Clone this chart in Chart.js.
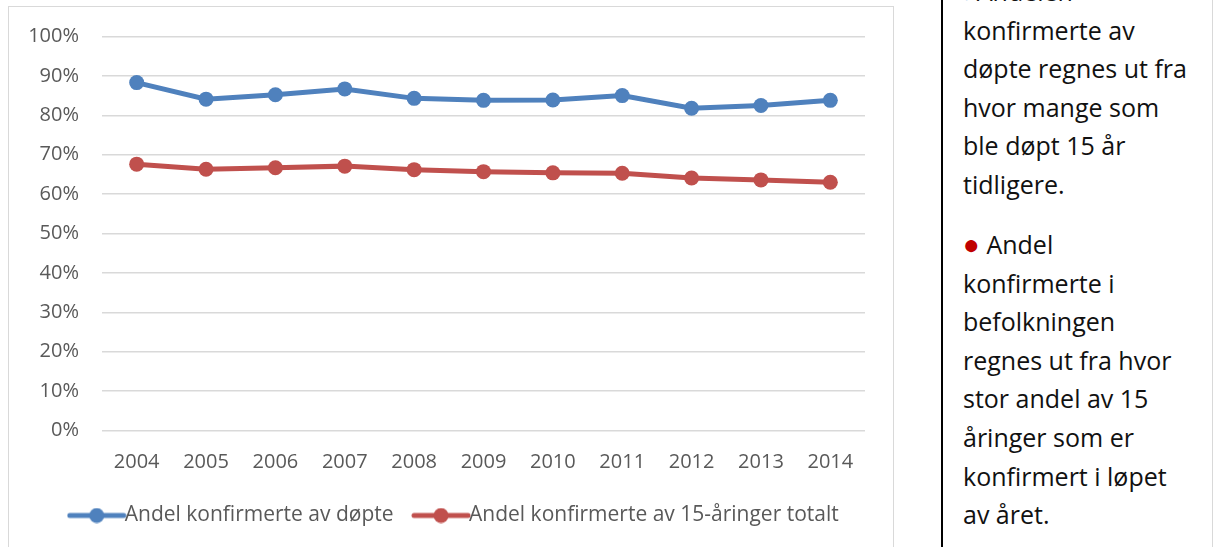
<!DOCTYPE html>
<html>
<head>
<meta charset="utf-8">
<script src="https://cdn.jsdelivr.net/npm/chart.js@4.4.1/dist/chart.umd.min.js"></script>
<style>
  body { margin: 0; background: #fff; width: 1214px; height: 547px; overflow: hidden; position: relative; }
  #box { position: absolute; left: 8px; top: 6px; width: 886px; height: 580px; border: 1.5px solid #d9d9d9; box-sizing: border-box; }
  #box canvas { display: block; }
  #note { position: absolute; left: 941px; top: 0; width: 272px; height: 547px; border-left: 2px solid #000; border-right: 1px solid #d9d9d9; box-sizing: border-box; }
  #note p { margin: 0; position: absolute; left: 20px; font-family: "Open Sans", sans-serif; font-size: 25px; line-height: 38.6px; color: #111; white-space: nowrap; }
  .dot { line-height: 0; }
</style>
</head>
<body>
<div id="box"><canvas id="chart" width="883" height="529"></canvas></div>
<div id="note">
  <p style="top:-28px"><span class="dot" style="color:#0070c0;font-size:12px;">●</span> Andelen<br>konfirmerte av<br>døpte regnes ut fra<br>hvor mange som<br>ble døpt 15 år<br>tidligere.</p>
  <p style="top:225px"><span class="dot" style="color:#c00000;font-size:28px;">●</span> Andel<br>konfirmerte i<br>befolkningen<br>regnes ut fra hvor<br>stor andel av 15<br>åringer som er<br>konfirmert i løpet<br>av året.</p>
</div>
<script>
  const years = ['2004','2005','2006','2007','2008','2009','2010','2011','2012','2013','2014'];
  const dopte = [0.883, 0.841, 0.852, 0.867, 0.843, 0.838, 0.839, 0.850, 0.818, 0.825, 0.838];
  const totalt = [0.676, 0.663, 0.667, 0.671, 0.662, 0.657, 0.654, 0.653, 0.641, 0.636, 0.630];
  const names = ['Andel konfirmerte av døpte', 'Andel konfirmerte av 15-åringer totalt'];
  const colors = ['#4f81bd', '#c0504d'];

  // legend marker: line with a dot in the middle
  function marker(color) {
    const c = document.createElement('canvas');
    c.width = 60; c.height = 16;
    const g = c.getContext('2d');
    g.strokeStyle = color; g.lineWidth = 5; g.lineCap = 'round';
    g.beginPath(); g.moveTo(3, 8); g.lineTo(57, 8); g.stroke();
    g.fillStyle = color;
    g.beginPath(); g.arc(30, 8, 7.5, 0, Math.PI * 2); g.fill();
    return c;
  }

  // nudge legend to the right so it sits like the original
  const shiftLegend = {
    id: 'shiftLegend',
    afterLayout(chart) {
      chart.legend.left += 22;
      chart.legend.right += 22;
    }
  };

  const ctx = document.getElementById('chart').getContext('2d');
  Chart.defaults.font.family = '"Open Sans", sans-serif';
  Chart.defaults.color = '#595959';

  new Chart(ctx, {
    type: 'line',
    data: {
      labels: years,
      datasets: [
        { label: names[0], data: dopte, borderColor: colors[0], backgroundColor: colors[0] },
        { label: names[1], data: totalt, borderColor: colors[1], backgroundColor: colors[1] }
      ]
    },
    options: {
      responsive: false,
      animation: false,
      devicePixelRatio: 1,
      elements: {
        line: { borderWidth: 5, tension: 0 },
        point: { pointStyle: 'circle', radius: 7.5, hoverRadius: 7.5, borderWidth: 0 }
      },
      layout: { padding: { top: 29.5, right: 27, left: 0, bottom: 0 } },
      plugins: {
        tooltip: { enabled: false },
        legend: {
          position: 'bottom',
          labels: {
            usePointStyle: true,
            pointStyleWidth: 35,
            padding: 30,
            font: { size: 21 },
            color: '#595959',
            generateLabels: (chart) => chart.data.datasets.map((d, i) => ({
              text: d.label, pointStyle: marker(colors[i]), fontColor: '#595959',
              strokeStyle: colors[i], fillStyle: colors[i], lineWidth: 0, datasetIndex: i
            }))
          }
        }
      },
      scales: {
        x: {
          offset: true,
          grid: { display: false },
          border: { display: false },
          afterFit: (s) => { s.height = 44.5; },
          ticks: { font: { size: 20 }, padding: 12, maxRotation: 0 }
        },
        y: {
          min: 0, max: 1,
          afterFit: (s) => { s.width = 93; s.paddingTop = 0; s.paddingBottom = 0; },
          grid: { color: '#d9d9d9', lineWidth: 1.5, drawTicks: false },
          border: { display: false },
          ticks: { stepSize: 0.1, font: { size: 20 }, padding: 23, callback: v => Math.round(v * 100) + '%' }
        }
      }
    },
    plugins: [shiftLegend]
  });
</script>
</body>
</html>
